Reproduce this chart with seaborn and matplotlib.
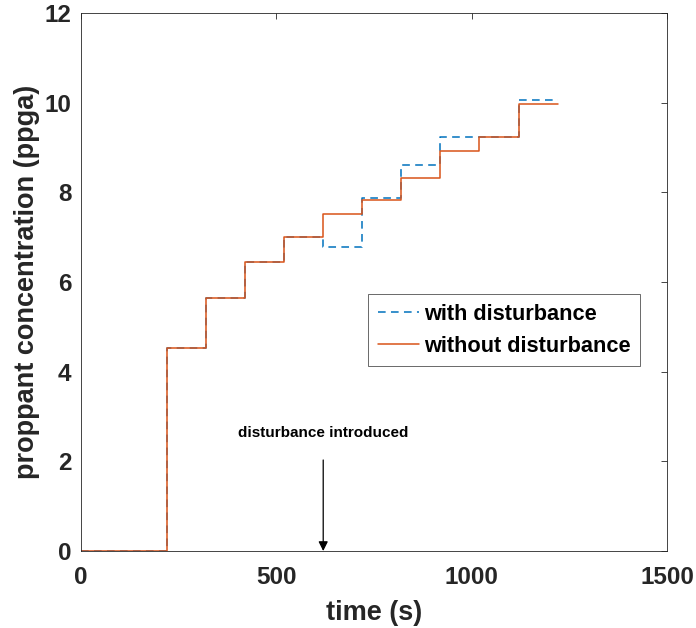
import matplotlib
matplotlib.use("Agg")
import matplotlib.pyplot as plt
import numpy as np
import pandas as pd
import seaborn as sns

# Stage start times (s); the final entry closes the last stage
stage_times = [0, 220, 320, 420, 520, 620, 720, 820, 920, 1020, 1120, 1220]
# Proppant concentration per stage (ppga); last value repeated to close the step
with_disturbance = [0, 4.53, 5.65, 6.45, 7.0, 6.77, 7.88, 8.61, 9.24, 9.24, 10.05, 10.05]
without_disturbance = [0, 4.53, 5.65, 6.45, 7.0, 7.52, 7.83, 8.32, 8.92, 9.24, 9.96, 9.96]

disturbance_time = 620

x_ticks = [0, 500, 1000, 1500]
y_ticks = [0, 2, 4, 6, 8, 10, 12]

blue = "#0072BD"
orange = "#D95319"

sns.set_theme(style="white")
plt.rcParams["font.family"] = ["Liberation Sans", "DejaVu Sans"]
plt.rcParams["font.weight"] = "bold"

df_with = pd.DataFrame({"time": stage_times, "conc": with_disturbance})
df_without = pd.DataFrame({"time": stage_times, "conc": without_disturbance})

fig = plt.figure(figsize=(6.96, 6.28), dpi=100)
ax = fig.add_axes([0.1164, 0.1226, 0.8419, 0.8567])

sns.lineplot(data=df_with, x="time", y="conc", ax=ax, color=blue, lw=1.1,
             linestyle=(0, (5, 3.5)), drawstyle="steps-post", sort=False,
             estimator=None, label="with disturbance")
sns.lineplot(data=df_without, x="time", y="conc", ax=ax, color=orange, lw=1.1,
             drawstyle="steps-post", sort=False, estimator=None,
             label="without disturbance")

ax.set_xlim(0, 1500)
ax.set_ylim(0, 12)
ax.set_xticks(x_ticks)
ax.set_yticks(y_ticks)
ax.tick_params(axis="both", direction="in", length=4, width=0.6, colors="#262626",
               labelsize=17.5, labelcolor="#262626", top=True, right=True)
ax.tick_params(axis="x", pad=11)
ax.tick_params(axis="y", pad=7)
for lab in ax.get_xticklabels() + ax.get_yticklabels():
    lab.set_fontweight("bold")
for s in ax.spines.values():
    s.set_visible(True)
    s.set_color("#262626")
    s.set_linewidth(0.6)

ax.set_xlabel("time (s)", fontsize=19.5, fontweight="bold", color="#262626", labelpad=8)
ax.set_ylabel("proppant concentration (ppga)", fontsize=19.5, fontweight="bold",
              color="#262626", labelpad=3)

ax.annotate("", xy=(disturbance_time, 0), xytext=(disturbance_time, 2.03),
            arrowprops=dict(arrowstyle="-|>", color="black", lw=0.9,
                            mutation_scale=14, shrinkA=0, shrinkB=0))
ax.text(disturbance_time, 2.47, "disturbance introduced", ha="center", va="bottom",
        fontsize=11, fontweight="bold", color="black")

leg = ax.legend(loc="upper left", bbox_to_anchor=(0.49, 0.478), fontsize=15.7,
                frameon=True, fancybox=False, handlelength=1.9, handletextpad=0.2,
                borderpad=0.45, labelspacing=0.5, borderaxespad=0)
leg.get_frame().set_edgecolor("#262626")
leg.get_frame().set_linewidth(0.6)
for t in leg.get_texts():
    t.set_fontweight("bold")
    t.set_color("black")

fig.savefig("out.png", dpi=100)
